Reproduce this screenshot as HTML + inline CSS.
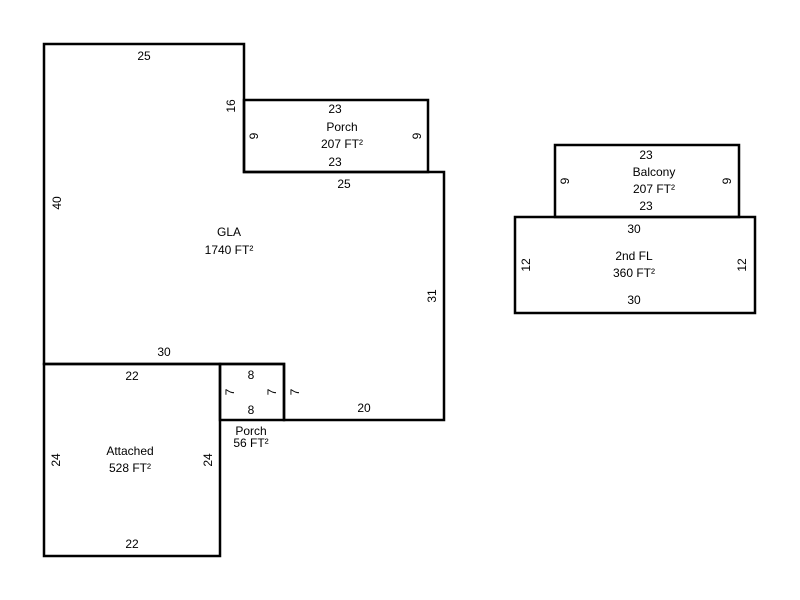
<!DOCTYPE html>
<html><head><style>body{margin:0;background:#fff}svg{display:block}text{font-family:"Liberation Sans",Arial,sans-serif;font-size:12px;fill:#000}</style></head><body>
<svg width="800" height="600" viewBox="0 0 800 600">
<g fill="none" stroke="#000" stroke-width="2.5" stroke-linejoin="miter">
<path d="M44,44 H244 V172 H444 V420 H284 V364 H44 Z"/>
<rect x="244" y="100" width="184" height="72"/>
<rect x="44" y="364" width="176" height="192"/>
<rect x="220" y="364" width="64" height="56"/>
<rect x="555" y="145" width="184" height="72"/>
<rect x="515" y="217" width="240" height="96"/>
</g>
<g text-anchor="middle">
<text x="144" y="60">25</text>
<text x="335" y="113">23</text>
<text x="342" y="131">Porch</text>
<text x="342" y="148">207 FT²</text>
<text x="335" y="166">23</text>
<text x="344" y="188">25</text>
<text x="229" y="236">GLA</text>
<text x="229" y="254">1740 FT²</text>
<text x="164" y="356">30</text>
<text x="132" y="380">22</text>
<text x="251" y="379">8</text>
<text x="251" y="414">8</text>
<text x="364" y="412">20</text>
<text x="251" y="435">Porch</text>
<text x="251" y="447">56 FT²</text>
<text x="130" y="455">Attached</text>
<text x="130" y="472">528 FT²</text>
<text x="132" y="548">22</text>
<text x="646" y="159">23</text>
<text x="654" y="176">Balcony</text>
<text x="654" y="193">207 FT²</text>
<text x="646" y="210">23</text>
<text x="634" y="233">30</text>
<text x="634" y="260">2nd FL</text>
<text x="634" y="277">360 FT²</text>
<text x="634" y="304">30</text>
<text transform="translate(235,106) rotate(-90)">16</text>
<text transform="translate(61,203) rotate(-90)">40</text>
<text transform="translate(258,136) rotate(-90)">9</text>
<text transform="translate(421,136) rotate(-90)">9</text>
<text transform="translate(436,296) rotate(-90)">31</text>
<text transform="translate(234,392) rotate(-90)">7</text>
<text transform="translate(276,392) rotate(-90)">7</text>
<text transform="translate(299,392) rotate(-90)">7</text>
<text transform="translate(60,460) rotate(-90)">24</text>
<text transform="translate(212,460) rotate(-90)">24</text>
<text transform="translate(569,181) rotate(-90)">9</text>
<text transform="translate(731,181) rotate(-90)">9</text>
<text transform="translate(530,265) rotate(-90)">12</text>
<text transform="translate(746,265) rotate(-90)">12</text>
</g>
</svg>
</body></html>
